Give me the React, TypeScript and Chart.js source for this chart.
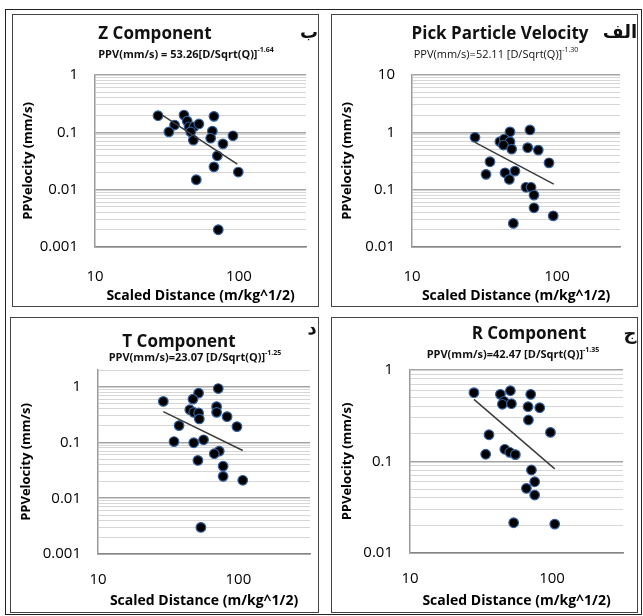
import React, { useEffect, useRef } from 'react';
import { Chart, registerables } from 'chart.js';
Chart.register(...registerables);

// ---------- data ----------
const zDistance = [27.4, 35.7, 32.6, 41.5, 43.7, 45, 48.7, 52.7, 46.2, 48.2, 67, 65.3, 63.6, 77.4, 90.8, 70.7, 67, 98.9, 50.5, 71.8];
const zPPV = [0.195, 0.134, 0.102, 0.2, 0.157, 0.125, 0.125, 0.14, 0.102, 0.073, 0.19, 0.105, 0.079, 0.063, 0.087, 0.039, 0.025, 0.0203, 0.0149, 0.002];
const zTrendDistance = [29.3, 97.3];
const zTrendPPV = [0.2, 0.028];

const pDistance = [27.2, 47.4, 65.1, 40.4, 43.3, 47.4, 42.7, 48.7, 62.8, 74.3, 88.1, 34.5, 32.4, 43.8, 51.3, 46.9, 61.1, 66.2, 69.4, 69.4, 94.2, 50];
const pPPV = [0.818, 1.02, 1.1, 0.686, 0.764, 0.686, 0.6, 0.51, 0.54, 0.49, 0.294, 0.307, 0.185, 0.197, 0.211, 0.151, 0.11, 0.11, 0.0805, 0.0483, 0.035, 0.0258];
const pTrendDistance = [27.2, 95];
const pTrendPPV = [0.67, 0.125];

const tDistance = [71.9, 52.1, 47.5, 29.2, 45.1, 48.1, 52.1, 70, 70, 52.7, 83.1, 97.7, 37.8, 34.8, 48.1, 56.5, 73.1, 67.4, 51.5, 77.9, 77.9, 107.5, 54.1];
const tPPV = [0.93, 0.77, 0.6, 0.546, 0.388, 0.348, 0.339, 0.44, 0.348, 0.265, 0.291, 0.193, 0.201, 0.104, 0.099, 0.112, 0.07, 0.063, 0.0477, 0.0377, 0.0247, 0.021, 0.003];
const tTrendDistance = [29.2, 107.5];
const tTrendPPV = [0.358, 0.072];

const rDistance = [28.2, 43.3, 50.9, 70.8, 45.9, 44.7, 51.8, 67.8, 81.9, 68.2, 36, 97.5, 34.1, 46.5, 50.4, 55.2, 71.6, 75.5, 66, 75.5, 53.7, 104.5];
const rPPV = [0.565, 0.542, 0.594, 0.542, 0.455, 0.422, 0.428, 0.397, 0.387, 0.284, 0.196, 0.208, 0.12, 0.136, 0.126, 0.119, 0.0807, 0.0601, 0.0509, 0.043, 0.0214, 0.0207];
const rTrendDistance = [28.2, 104.5];
const rTrendPPV = [0.478, 0.083];

const xAxisTitle = 'Scaled Distance (m/kg^1/2)';
const yAxisTitle = 'PPVelocity (mm/s)';

const FONT = "'Open Sans', 'DejaVu Sans', sans-serif";

type Rect = [number, number, number, number];

interface PanelConfig {
  box: Rect;
  plot: Rect;
  xMax: number;
  yMin: number;
  yMax: number;
  dist: number[];
  ppv: number[];
  trendDist: number[];
  trendPPV: number[];
  title: string;
  titlePos: [number, number];
  eqBase: string;
  eqExp: string;
  eqPos: [number, number];
  eqBold: boolean;
  letter: string;
  letterPos: [number, number];
  xTickPad: number;
  xTitlePad: number;
}

const isDecade = (v: number) => {
  const e = Math.log10(v);
  return Math.abs(e - Math.round(e)) < 1e-6;
};

const decadeLabel = (value: any) => {
  const v = Number(value);
  if (!isDecade(v)) return '';
  const r = Math.round(Math.log10(v));
  return r >= 0 ? String(Math.pow(10, r)) : Math.pow(10, r).toFixed(-r);
};

const dropHalfTicks = (scale: any) => {
  scale.ticks = scale.ticks.filter((t: any) => {
    const m = t.value / Math.pow(10, Math.floor(Math.log10(t.value) + 1e-9));
    return Math.abs(m - 1.5) > 1e-6;
  });
};

function Panel({ cfg }: { cfg: PanelConfig }) {
  const ref = useRef<HTMLCanvasElement | null>(null);
  const [bl, bt, br, bb] = cfg.box;
  const [pl, pt, pr, pb] = cfg.plot;
  const w = br - bl;
  const h = bb - bt;

  useEffect(() => {
    if (!ref.current) return;
    const chart = new Chart(ref.current, {
      type: 'scatter',
      data: {
        datasets: [
          {
            data: cfg.trendDist.map((x, i) => ({ x, y: cfg.trendPPV[i] })),
            showLine: true,
            pointRadius: 0,
            borderColor: '#3c3c3c',
            borderWidth: 1.5,
          } as any,
          {
            data: cfg.dist.map((x, i) => ({ x, y: cfg.ppv[i] })),
            pointRadius: 4.8,
            pointBackgroundColor: '#000000',
            pointBorderColor: '#2f5f9e',
            pointBorderWidth: 1.2,
            showLine: false,
          } as any,
        ],
      },
      options: {
        animation: false,
        responsive: false,
        maintainAspectRatio: false,
        layout: { padding: { top: pt - bt, right: br - pr, left: 0, bottom: 0 } },
        plugins: { legend: { display: false }, tooltip: { enabled: false } },
        scales: {
          x: {
            type: 'logarithmic',
            min: 10,
            max: cfg.xMax,
            afterFit: (s: any) => { s.height = bb - pb; },
            afterBuildTicks: dropHalfTicks,
            grid: { display: false },
            border: { display: true, color: '#858585', width: 1.5 },
            ticks: {
              autoSkip: false,
              maxRotation: 0,
              minRotation: 0,
              padding: cfg.xTickPad,
              color: '#000',
              font: { family: FONT, size: 15 },
              callback: decadeLabel,
            },
            title: {
              display: true,
              text: xAxisTitle,
              color: '#000',
              font: { family: FONT, size: 14, weight: 'bold' },
              padding: { top: 0, bottom: cfg.xTitlePad },
            },
          } as any,
          y: {
            type: 'logarithmic',
            min: cfg.yMin,
            max: cfg.yMax,
            afterFit: (s: any) => { s.width = pl - bl; },
            afterBuildTicks: dropHalfTicks,
            grid: {
              drawTicks: false,
              color: (c: any) => (c.tick && isDecade(c.tick.value) ? '#a3a3a3' : '#d6d6d6'),
              lineWidth: (c: any) => (c.tick && isDecade(c.tick.value) ? 1.6 : 1),
            },
            border: { display: true, color: '#9a9a9a', width: 1.5 },
            ticks: {
              autoSkip: false,
              padding: 17,
              color: '#000',
              font: { family: FONT, size: 15 },
              callback: decadeLabel,
            },
            title: {
              display: true,
              text: yAxisTitle,
              color: '#000',
              font: { family: FONT, size: 13, weight: 'bold' },
              padding: { top: 8, bottom: 0 },
            },
          } as any,
        },
      },
    });
    return () => chart.destroy();
  }, [cfg]);

  const center = (x: number, y: number): React.CSSProperties => ({
    position: 'absolute',
    left: x,
    top: y,
    transform: 'translate(-50%, -50%)',
    whiteSpace: 'nowrap',
    fontFamily: FONT,
    color: '#111',
    lineHeight: 1,
  });

  return (
    <>
      <canvas
        ref={ref}
        width={w}
        height={h}
        style={{ position: 'absolute', left: bl, top: bt, width: w, height: h }}
      />
      <div
        style={{
          position: 'absolute', left: bl, top: bt, width: w, height: h,
          boxSizing: 'border-box', border: '1.5px solid #444', pointerEvents: 'none',
        }}
      />
      <div style={{ ...center(cfg.titlePos[0], cfg.titlePos[1]), fontSize: 17, fontWeight: 700 }}>{cfg.title}</div>
      <div style={{ ...center(cfg.eqPos[0], cfg.eqPos[1]), fontSize: 11, fontWeight: cfg.eqBold ? 700 : 400 }}>
        {cfg.eqBase}
        <sup style={{ fontSize: 7, verticalAlign: 'top', position: 'relative', top: -2 }}>{cfg.eqExp}</sup>
      </div>
      <div style={{ ...center(cfg.letterPos[0], cfg.letterPos[1]), fontSize: 18, fontWeight: 700, fontFamily: "'DejaVu Sans', sans-serif" }}>
        {cfg.letter}
      </div>
    </>
  );
}

const panels: PanelConfig[] = [
  {
    box: [12, 14, 319, 307], plot: [95, 75, 307, 247], xMax: 292, yMin: 0.001, yMax: 1,
    dist: zDistance, ppv: zPPV, trendDist: zTrendDistance, trendPPV: zTrendPPV,
    title: 'Z Component', titlePos: [155, 32],
    eqBase: 'PPV(mm/s) = 53.26[D/Sqrt(Q)]', eqExp: '-1.64', eqPos: [186, 53], eqBold: true,
    letter: 'ب', letterPos: [309, 32], xTickPad: 13, xTitlePad: 3,
  },
  {
    box: [331, 14, 638, 307], plot: [412, 75, 620, 247], xMax: 272, yMin: 0.01, yMax: 10,
    dist: pDistance, ppv: pPPV, trendDist: pTrendDistance, trendPPV: pTrendPPV,
    title: 'Pick Particle Velocity', titlePos: [500, 32],
    eqBase: 'PPV(mm/s)=52.11 [D/Sqrt(Q)]', eqExp: '-1.30', eqPos: [496, 53], eqBold: false,
    letter: 'الف', letterPos: [620, 32], xTickPad: 13, xTitlePad: 3,
  },
  {
    box: [10, 317, 319, 613], plot: [98, 370, 314, 554], xMax: 324, yMin: 0.001, yMax: 2,
    dist: tDistance, ppv: tPPV, trendDist: tTrendDistance, trendPPV: tTrendPPV,
    title: 'T Component', titlePos: [179, 340],
    eqBase: 'PPV(mm/s)=23.07 [D/Sqrt(Q)]', eqExp: '-1.25', eqPos: [195, 356], eqBold: true,
    letter: 'د', letterPos: [312, 328], xTickPad: 9, xTitlePad: 4,
  },
  {
    box: [331, 317, 638, 613], plot: [410, 370, 623, 553], xMax: 316, yMin: 0.01, yMax: 1,
    dist: rDistance, ppv: rPPV, trendDist: rTrendDistance, trendPPV: rTrendPPV,
    title: 'R Component', titlePos: [529, 332],
    eqBase: 'PPV(mm/s)=42.47 [D/Sqrt(Q)]', eqExp: '-1.35', eqPos: [513, 353], eqBold: true,
    letter: 'ج', letterPos: [630, 333], xTickPad: 9, xTitlePad: 4,
  },
];

export default function App() {
  return (
    <div style={{ position: 'absolute', left: 0, top: 0, width: 643, height: 616, background: '#fff', overflow: 'hidden' }}>
      <div style={{ position: 'absolute', left: 5, top: 9, width: 637, height: 606, boxSizing: 'border-box', border: '1.5px solid #222' }} />
      {panels.map((p, i) => (
        <Panel key={i} cfg={p} />
      ))}
    </div>
  );
}
